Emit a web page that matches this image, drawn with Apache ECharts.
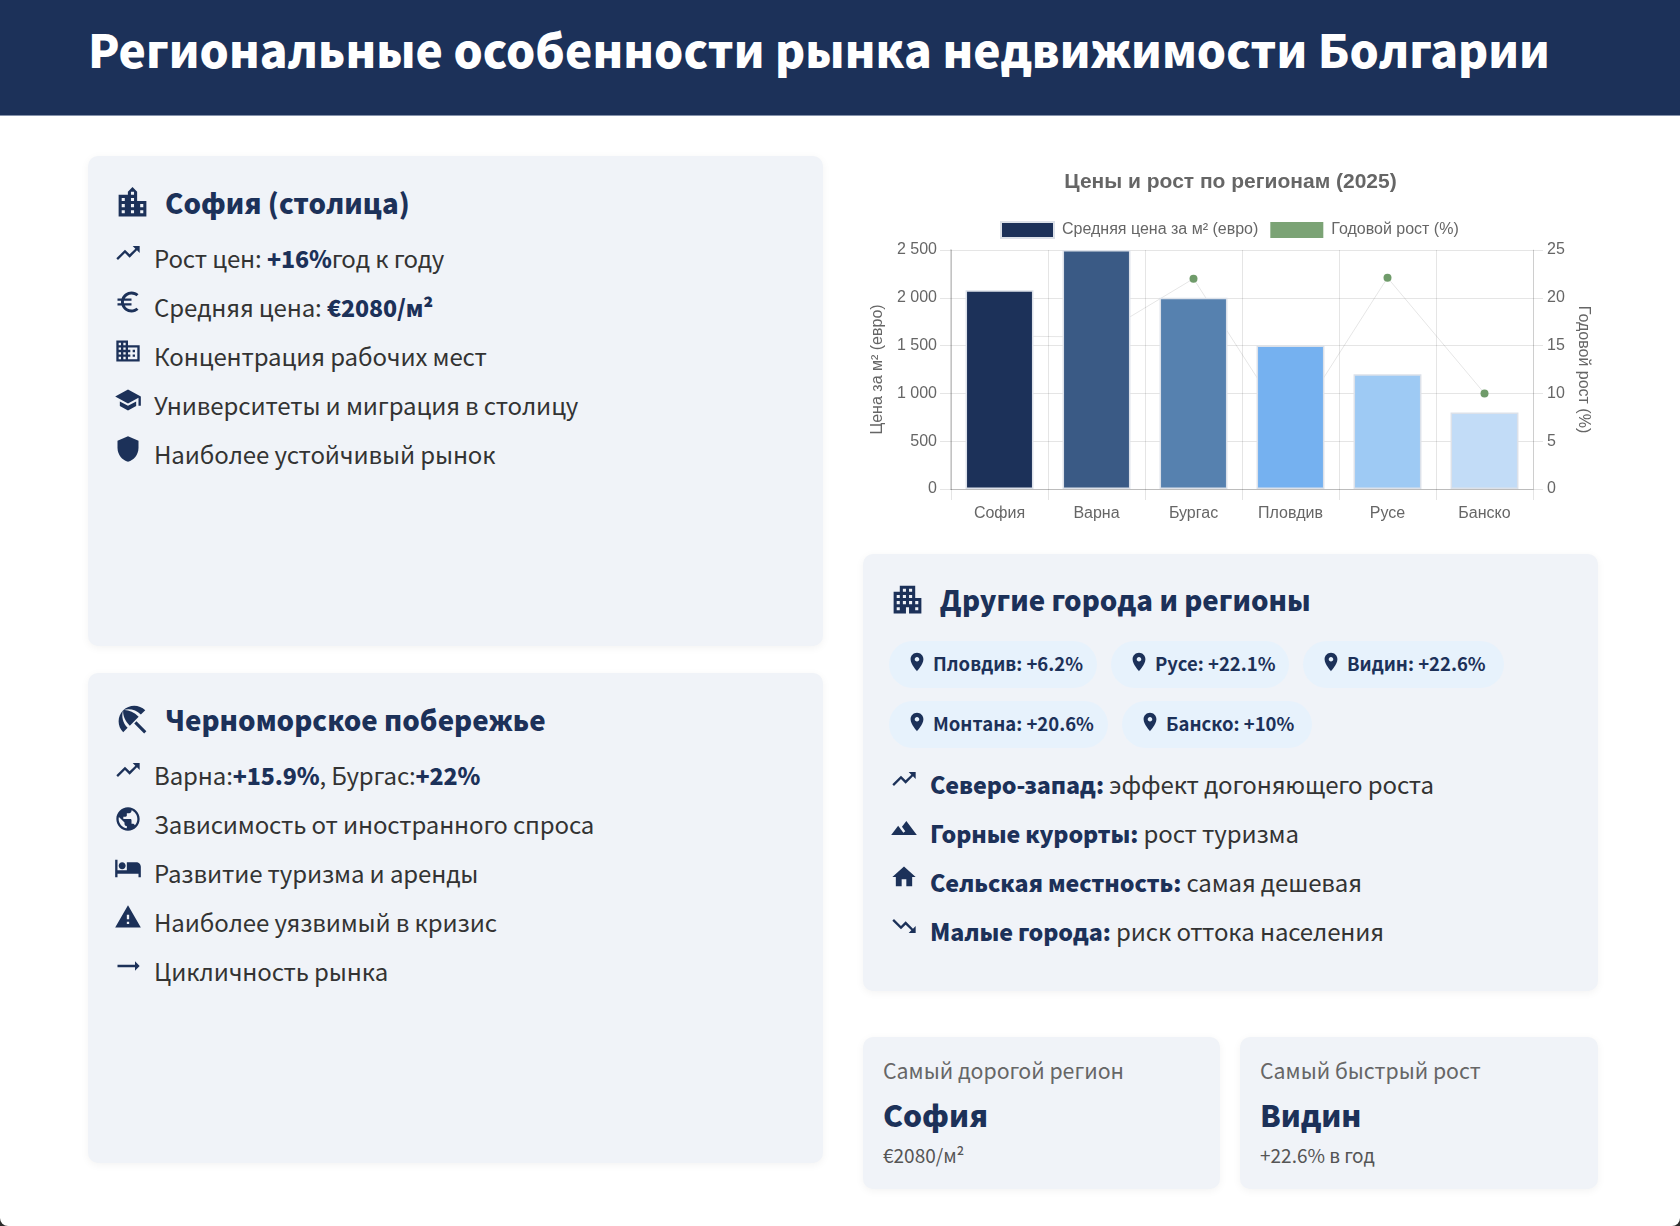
<!DOCTYPE html>
<html>
<head>
<meta charset="UTF-8">
<title>Региональные особенности рынка недвижимости Болгарии</title>
<script src="https://cdn.jsdelivr.net/npm/echarts@6/dist/echarts.min.js"></script>
<style>
    html, body { margin: 0; padding: 0; background: #2b2b2b; }
    #page {
        position: relative; width: 1680px; height: 1226px; overflow: hidden;
        background: #fff; border-radius: 0 0 8px 8px;
        font-family: "Noto Sans CJK SC", "Noto Sans", sans-serif; color: #333;
    }
    header {
        height: 116px; background: #1c3159; border-bottom: 1px solid #8592ab; box-sizing: border-box;
    }
    header h1 {
        margin: 0; padding-left: 88px; font-size: 46px; line-height: 97px;
        color: #fff; font-weight: 900; white-space: nowrap;
    }
    .card {
        position: absolute; box-sizing: border-box; background: #f0f3f8; border-radius: 10px;
        box-shadow: 0 2px 8px rgba(0, 0, 0, .05);
    }
    .card h2 {
        position: absolute; margin: 0; font-size: 27.6px; line-height: 36px; color: #1c3159;
        font-weight: 900; white-space: nowrap;
    }
    .card h2 svg { position: absolute; width: 37px; height: 37px; top: 0; fill: #1c3159; }
    ul { position: absolute; margin: 0; padding: 0; list-style: none; }
    li { position: relative; height: 49px; line-height: 49px; font-size: 24px; letter-spacing: -0.12px; white-space: nowrap; }
    li svg { position: absolute; width: 28px; height: 28px; top: 6px; left: -40px; fill: #1c3159; }
    b { color: #1c3159; font-weight: 900; font-size: 23.2px; }
    .pill {
        position: absolute; height: 47px; line-height: 44px; box-sizing: border-box; padding-left: 44px;
        background: #e7f2fc; border-radius: 24px; font-size: 18.5px; font-weight: 700; color: #1c3159;
        white-space: nowrap;
    }
    .pill svg { position: absolute; left: 17px; top: 10px; width: 22px; height: 22px; fill: #1c3159; }
    .stat div { position: absolute; left: 20px; white-space: nowrap; }
    .stat .t { top: 13px; font-size: 21.3px; line-height: 40px; color: #666; }
    .stat .v { top: 52px; font-size: 30px; line-height: 50px; font-weight: 900; color: #1c3159; }
    .stat .s { top: 99px; font-size: 19px; line-height: 38px; color: #555; }
    #chart { position: absolute; left: 863px; top: 156px; width: 735px; height: 380px; }
</style>
</head>
<body>
<svg width="0" height="0" style="position:absolute">
    <symbol id="i-city" viewBox="0 0 24 24"><path d="M15 11V5l-3-3-3 3v2H3v14h18V11h-6zm-8 8H5v-2h2v2zm0-4H5v-2h2v2zm0-4H5V9h2v2zm6 8h-2v-2h2v2zm0-4h-2v-2h2v2zm0-4h-2V9h2v2zm0-4h-2V5h2v2zm6 12h-2v-2h2v2zm0-4h-2v-2h2v2z"/></symbol>
    <symbol id="i-apartment" viewBox="0 0 24 24"><path d="M17 11V3H7v4H3v14h8v-4h2v4h8V11h-4zM7 19H5v-2h2v2zm0-4H5v-2h2v2zm0-4H5V9h2v2zm4 4H9v-2h2v2zm0-4H9V9h2v2zm0-4H9V5h2v2zm4 8h-2v-2h2v2zm0-4h-2V9h2v2zm0-4h-2V5h2v2zm4 12h-2v-2h2v2zm0-4h-2v-2h2v2z"/></symbol>
    <symbol id="i-beach" viewBox="0 0 24 24"><path d="M13.127 14.56l1.43-1.43 6.44 6.443L19.57 21zm4.293-5.73l2.86-2.86c-3.95-3.95-10.35-3.96-14.3-.02 3.93-1.3 8.31-.25 11.44 2.88zM5.95 5.98c-3.94 3.95-3.93 10.35.02 14.3l2.86-2.86C5.7 14.29 4.65 9.91 5.95 5.98zm.02-.02l-.01.01c-.38 3.01 1.17 6.88 4.3 10.02l5.73-5.73c-3.13-3.13-7.01-4.68-10.02-4.3z"/></symbol>
    <symbol id="i-up" viewBox="0 0 24 24"><path d="M16 6l2.29 2.29-4.88 4.88-4-4L2 16.59 3.41 18l6-6 4 4 6.3-6.29L22 12V6z"/></symbol>
    <symbol id="i-down" viewBox="0 0 24 24"><path d="M16 18l2.29-2.29-4.88-4.88-4 4L2 7.41 3.41 6l6 6 4-4 6.3 6.29L22 12v6z"/></symbol>
    <symbol id="i-euro" viewBox="0 0 24 24"><path d="M15 18.5c-2.51 0-4.68-1.42-5.76-3.5H15v-2H8.58c-.05-.33-.08-.66-.08-1s.03-.67.08-1H15V9H9.24C10.32 6.92 12.5 5.5 15 5.5c1.61 0 3.09.59 4.23 1.57L21 5.3C19.41 3.87 17.3 3 15 3c-3.92 0-7.24 2.51-8.48 6H3v2h3.06c-.04.33-.06.66-.06 1s.02.67.06 1H3v2h3.52c1.24 3.49 4.56 6 8.48 6 2.31 0 4.41-.87 6-2.3l-1.78-1.77c-1.13.98-2.6 1.57-4.22 1.57z"/></symbol>
    <symbol id="i-business" viewBox="0 0 24 24"><path d="M12 7V3H2v18h20V7H12zM6 19H4v-2h2v2zm0-4H4v-2h2v2zm0-4H4V9h2v2zm0-4H4V5h2v2zm4 12H8v-2h2v2zm0-4H8v-2h2v2zm0-4H8V9h2v2zm0-4H8V5h2v2zm10 12h-8v-2h2v-2h-2v-2h2v-2h-2V9h8v10zm-2-8h-2v2h2v-2zm0 4h-2v2h2v-2z"/></symbol>
    <symbol id="i-school" viewBox="0 0 24 24"><path d="M5 13.18v4L12 21l7-3.82v-4L12 17l-7-3.82zM12 3L1 9l11 6 9-4.91V17h2V9L12 3z"/></symbol>
    <symbol id="i-shield" viewBox="0 0 24 24"><path d="M12 1L3 5v6c0 5.55 3.84 10.74 9 12 5.16-1.26 9-6.45 9-12V5l-9-4z"/></symbol>
    <symbol id="i-globe" viewBox="0 0 24 24"><path d="M12 2C6.48 2 2 6.48 2 12s4.48 10 10 10 10-4.48 10-10S17.52 2 12 2zm-1 17.93c-3.95-.49-7-3.85-7-7.93 0-.62.08-1.21.21-1.79L9 15v1c0 1.1.9 2 2 2v1.93zm6.9-2.54c-.26-.81-1-1.39-1.9-1.39h-1v-3c0-.55-.45-1-1-1H8v-2h2c.55 0 1-.45 1-1V7h2c1.1 0 2-.9 2-2v-.41c2.93 1.19 5 4.06 5 7.41 0 2.08-.8 3.97-2.1 5.39z"/></symbol>
    <symbol id="i-bed" viewBox="0 0 24 24"><path d="M7 13c1.66 0 3-1.34 3-3S8.66 7 7 7s-3 1.34-3 3 1.34 3 3 3zm12-6h-8v7H3V5H1v15h2v-3h18v3h2v-9c0-2.21-1.79-4-4-4z"/></symbol>
    <symbol id="i-warn" viewBox="0 0 24 24"><path d="M1 21h22L12 2 1 21zm12-3h-2v-2h2v2zm0-4h-2v-4h2v4z"/></symbol>
    <symbol id="i-flat" viewBox="0 0 24 24"><path d="M22 12l-4-4v3H3v2h15v3z"/></symbol>
    <symbol id="i-pin" viewBox="0 0 24 24"><path d="M12 2C8.13 2 5 5.13 5 9c0 5.25 7 13 7 13s7-7.75 7-13c0-3.87-3.13-7-7-7zm0 9.5c-1.38 0-2.5-1.12-2.5-2.5s1.12-2.5 2.5-2.5 2.5 1.12 2.5 2.5-1.12 2.5-2.5 2.5z"/></symbol>
    <symbol id="i-terrain" viewBox="0 0 24 24"><path d="M14 6l-3.75 5 2.85 3.8-1.6 1.2C9.81 13.75 7 10 7 10l-6 8h22L14 6z"/></symbol>
    <symbol id="i-home" viewBox="0 0 24 24"><path d="M10 20v-6h4v6h5v-8h3L12 3 2 12h3v8z"/></symbol>
</svg>

<div id="page">
    <header><h1>Региональные особенности рынка недвижимости Болгарии</h1></header>

    <div class="card" style="left:88px;top:156px;width:735px;height:490px">
        <h2 style="left:77px;top:28px"><svg style="left:-51px"><use href="#i-city"/></svg>София (столица)</h2>
        <ul style="left:66px;top:77px">
            <li><svg><use href="#i-up"/></svg>Рост цен: <b>+16%</b>год к году</li>
            <li><svg><use href="#i-euro"/></svg>Средняя цена: <b>€2080/м²</b></li>
            <li><svg><use href="#i-business"/></svg>Концентрация рабочих мест</li>
            <li><svg><use href="#i-school"/></svg>Университеты и миграция в столицу</li>
            <li><svg><use href="#i-shield"/></svg>Наиболее устойчивый рынок</li>
        </ul>
    </div>

    <div class="card" style="left:88px;top:673px;width:735px;height:490px">
        <h2 style="left:77px;top:28px"><svg style="left:-51px"><use href="#i-beach"/></svg>Черноморское побережье</h2>
        <ul style="left:66px;top:77px">
            <li><svg><use href="#i-up"/></svg>Варна:<b>+15.9%</b>, Бургас:<b>+22%</b></li>
            <li><svg><use href="#i-globe"/></svg>Зависимость от иностранного спроса</li>
            <li><svg><use href="#i-bed"/></svg>Развитие туризма и аренды</li>
            <li><svg><use href="#i-warn"/></svg>Наиболее уязвимый в кризис</li>
            <li><svg><use href="#i-flat"/></svg>Цикличность рынка</li>
        </ul>
    </div>

    <div id="chart"></div>

    <div class="card" style="left:863px;top:554px;width:735px;height:437px">
        <h2 style="left:77px;top:27px"><svg style="left:-51px"><use href="#i-apartment"/></svg>Другие города и регионы</h2>
        <div class="pill" style="left:26px;top:87px;width:208px"><svg><use href="#i-pin"/></svg>Пловдив: +6.2%</div>
        <div class="pill" style="left:248px;top:87px;width:178px"><svg><use href="#i-pin"/></svg>Русе: +22.1%</div>
        <div class="pill" style="left:440px;top:87px;width:201px"><svg><use href="#i-pin"/></svg>Видин: +22.6%</div>
        <div class="pill" style="left:26px;top:147px;width:219px"><svg><use href="#i-pin"/></svg>Монтана: +20.6%</div>
        <div class="pill" style="left:259px;top:147px;width:190px"><svg><use href="#i-pin"/></svg>Банско: +10%</div>
        <ul style="left:67px;top:205px">
            <li><svg><use href="#i-up"/></svg><b>Северо-запад:</b> эффект догоняющего роста</li>
            <li><svg><use href="#i-terrain"/></svg><b>Горные курорты:</b> рост туризма</li>
            <li><svg><use href="#i-home"/></svg><b>Сельская местность:</b> самая дешевая</li>
            <li><svg><use href="#i-down"/></svg><b>Малые города:</b> риск оттока населения</li>
        </ul>
    </div>

    <div class="card stat" style="left:863px;top:1037px;width:357px;height:152px">
        <div class="t">Самый дорогой регион</div>
        <div class="v">София</div>
        <div class="s">€2080/м²</div>
    </div>
    <div class="card stat" style="left:1240px;top:1037px;width:358px;height:152px">
        <div class="t">Самый быстрый рост</div>
        <div class="v">Видин</div>
        <div class="s">+22.6% в год</div>
    </div>
</div>

<script>
    // данные графика
    var regions = ['София', 'Варна', 'Бургас', 'Пловдив', 'Русе', 'Банско'];
    var avgPrice = [2080, 2500, 2000, 1500, 1200, 800];
    var yearGrowth = [16, 15.9, 22, 6.2, 22.1, 10];
    var barColors = ['#1c3159', '#3a5a85', '#5681af', '#75b1f0', '#9ecaf4', '#c2dcf7'];

    var gridColor = 'rgba(0,0,0,0.1)';
    var textColor = '#666';
    var chartFont = '"Liberation Sans", Arial, sans-serif';

    var myChart = echarts.init(document.getElementById('chart'));

    myChart.setOption({
        animation: false,
        textStyle: {fontFamily: chartFont},
        title: {
            text: 'Цены и рост по регионам (2025)',
            left: 'center',
            top: 11,
            textStyle: {color: textColor, fontSize: 21, fontWeight: 'bold', fontFamily: chartFont}
        },
        legend: {
            top: 60,
            left: 132,
            itemWidth: 53,
            itemHeight: 16,
            itemGap: 12,
            textStyle: {color: textColor, fontSize: 16, padding: [0, 0, 0, 3], fontFamily: chartFont},
            data: [
                {name: 'Средняя цена за м² (евро)', icon: 'rect'},
                {name: 'Годовой рост (%)', icon: 'rect', itemStyle: {color: '#7ba375', borderWidth: 0}}
            ]
        },
        grid: {left: 88, right: 65, top: 94, bottom: 47, outerBoundsMode: 'none'},
        xAxis: {
            type: 'category',
            data: regions,
            axisLine: {lineStyle: {color: 'rgba(0,0,0,0.18)'}},
            axisTick: {show: true, length: 11, lineStyle: {color: gridColor}},
            axisLabel: {color: textColor, fontSize: 16, margin: 17, fontFamily: chartFont},
            splitLine: {show: true, lineStyle: {color: gridColor}}
        },
        yAxis: [{
            type: 'value',
            min: 0,
            max: 2500,
            interval: 500,
            name: 'Цена за м² (евро)',
            nameLocation: 'middle',
            nameGap: 62,
            nameTextStyle: {color: textColor, fontSize: 16, fontFamily: chartFont},
            axisLine: {show: true, lineStyle: {color: 'rgba(0,0,0,0.15)', width: 2}},
            axisTick: {show: true, length: 11, lineStyle: {color: gridColor}},
            axisLabel: {
                color: textColor, fontSize: 16, margin: 14, padding: [5, 0, 0, 0], fontFamily: chartFont,
                formatter: function (v) {
                    return String(v).replace(/\B(?=(\d{3})+$)/g, ' ');
                }
            },
            splitLine: {lineStyle: {color: gridColor}}
        }, {
            type: 'value',
            min: 0,
            max: 25,
            interval: 5,
            name: 'Годовой рост (%)',
            nameLocation: 'middle',
            nameGap: 41,
            nameRotate: -90,
            nameTextStyle: {color: textColor, fontSize: 16, fontFamily: chartFont},
            axisLine: {show: true, lineStyle: {color: gridColor}},
            axisTick: {show: true, length: 10, lineStyle: {color: gridColor}},
            axisLabel: {color: textColor, fontSize: 16, margin: 14, padding: [5, 0, 0, 0], fontFamily: chartFont},
            splitLine: {show: false}
        }],
        series: [{
            name: 'Средняя цена за м² (евро)',
            type: 'bar',
            z: 3,
            barWidth: '70%',
            itemStyle: {color: barColors[0], borderColor: '#dce1e9', borderWidth: 1.5},
            data: avgPrice.map(function (v, i) {
                return {value: v, itemStyle: {color: barColors[i]}};
            })
        }, {
            name: 'Годовой рост (%)',
            type: 'line',
            yAxisIndex: 1,
            z: 2,
            symbol: 'circle',
            symbolSize: 8,
            showAllSymbol: true,
            itemStyle: {color: '#6f9b6a'},
            lineStyle: {color: gridColor, width: 1},
            data: yearGrowth
        }]
    });
</script>
</body>
</html>
